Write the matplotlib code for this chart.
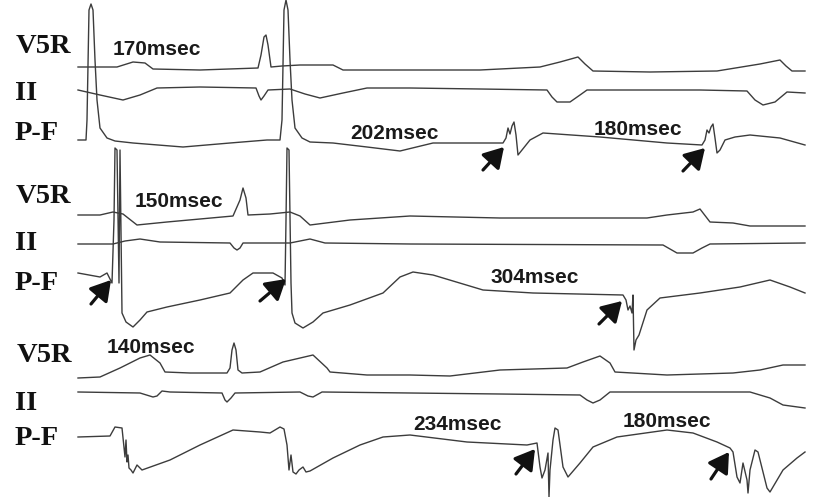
import matplotlib.pyplot as plt

# Traces read off the strip, in image units (x to the right, y downwards)
# ---- strip 1 ----
s1_v5r_x = [78, 100, 117, 133, 145, 153, 200, 258, 261, 264, 266, 268, 271, 282, 300, 333, 343, 400, 480, 540, 560, 578, 585, 593, 650, 717, 760, 780, 786, 792, 805]
s1_v5r_y = [67, 67, 67, 62, 63, 69, 70, 68, 55, 37, 35, 45, 67, 66, 65, 65, 70, 70, 70, 67, 62, 57, 64, 71, 72, 71, 64, 60, 66, 71, 71]
s1_ii_x = [78, 100, 123, 140, 157, 200, 256, 259, 261, 264, 268, 290, 305, 320, 343, 367, 410, 480, 547, 552, 557, 570, 580, 587, 650, 700, 747, 755, 763, 775, 787, 805]
s1_ii_y = [90, 95, 100, 95, 88, 87, 88, 96, 100, 96, 90, 89, 94, 98, 93, 88, 88, 89, 90, 97, 102, 102, 95, 90, 90, 90, 91, 100, 105, 102, 92, 93]
s1_pf_x = [78, 86, 87, 89, 91, 93, 95, 97, 100, 107, 115, 133, 183, 230, 267, 280, 282, 284, 286, 288, 290, 292, 295, 302, 310, 333, 367, 400, 433, 503,
           506, 508, 510, 512, 514, 516, 518, 522, 530, 543, 600, 667, 702, 705, 707, 709, 711, 713, 715, 717, 720, 725, 735, 750, 780, 805]
s1_pf_y = [140, 140, 120, 10, 4, 10, 60, 100, 128, 138, 141, 143, 147, 143, 140, 140, 120, 10, 0, 10, 60, 100, 128, 138, 142, 143, 147, 151, 143, 143,
           138, 128, 134, 126, 122, 135, 155, 150, 140, 133, 137, 143, 145, 140, 130, 133, 127, 124, 138, 153, 150, 140, 137, 135, 138, 145]

# ---- strip 2 ----
s2_v5r_x = [78, 100, 113, 123, 137, 167, 233, 240, 243, 246, 248, 270, 290, 300, 310, 350, 410, 500, 543, 647, 667, 693, 700, 710, 733, 750, 805]
s2_v5r_y = [215, 215, 212, 214, 225, 222, 216, 200, 188, 198, 215, 214, 212, 216, 225, 220, 216, 218, 218, 218, 215, 212, 209, 222, 223, 226, 226]
s2_ii_x = [78, 113, 125, 140, 160, 230, 234, 237, 240, 243, 290, 300, 310, 325, 410, 663, 670, 677, 693, 702, 710, 805]
s2_ii_y = [244, 244, 241, 239, 242, 243, 248, 250, 248, 243, 243, 241, 239, 243, 244, 245, 249, 253, 253, 248, 244, 243]
s2_pf_x = [78, 100, 107, 112, 114, 115, 117, 119, 120, 122, 126, 133, 140, 147, 167, 200, 230, 243, 253, 273, 282, 285, 286, 287, 289, 291, 292,
           295, 303, 313, 323, 350, 383, 400, 413, 433, 483, 533, 623, 626, 628, 630, 632, 633, 634, 636, 639, 647, 660, 700, 740, 770, 790, 805]
s2_pf_y = [273, 277, 273, 283, 220, 148, 150, 283, 150, 313, 322, 327, 320, 312, 307, 300, 293, 280, 273, 273, 278, 285, 220, 148, 150, 283, 313,
           323, 328, 322, 313, 305, 293, 277, 272, 275, 290, 293, 295, 300, 310, 306, 313, 295, 350, 340, 335, 310, 298, 293, 287, 280, 287, 293]

# ---- strip 3 ----
s3_v5r_x = [78, 100, 120, 140, 150, 160, 165, 190, 227, 230, 232, 234, 236, 238, 242, 260, 283, 313, 327, 330, 367, 410, 450, 500, 567, 583, 600, 610, 615, 667, 733, 760, 783, 805]
s3_v5r_y = [378, 377, 368, 358, 355, 363, 372, 373, 373, 368, 350, 343, 350, 370, 373, 372, 362, 355, 368, 372, 375, 375, 376, 370, 368, 362, 356, 363, 372, 375, 373, 370, 365, 365]
s3_ii_x = [78, 140, 153, 157, 162, 170, 222, 225, 227, 231, 235, 300, 308, 313, 322, 410, 500, 580, 587, 593, 600, 610, 750, 770, 783, 805]
s3_ii_y = [392, 393, 397, 396, 391, 392, 393, 400, 402, 398, 393, 392, 396, 397, 392, 393, 394, 395, 400, 403, 400, 392, 392, 398, 405, 408]
s3_pf_x = [78, 110, 115, 122, 125, 126, 127, 128, 129, 131, 133, 137, 142, 170, 200, 233, 260, 270, 275, 280, 284, 287, 289, 291, 293, 296, 299,
           303, 306, 310, 333, 360, 383, 410, 467, 527, 537, 540, 542, 545, 548, 549, 550, 553, 555, 558, 563, 568, 580, 593, 617, 667, 693, 717,
           730, 733, 737, 740, 743, 747, 748, 750, 755, 758, 767, 770, 783, 797, 805]
s3_pf_y = [437, 436, 427, 428, 457, 440, 462, 455, 468, 470, 473, 465, 470, 460, 445, 430, 432, 433, 430, 427, 429, 445, 470, 455, 472, 474, 470,
           467, 472, 471, 458, 445, 437, 435, 442, 445, 443, 467, 478, 470, 453, 497, 470, 440, 428, 430, 467, 477, 463, 447, 437, 430, 433, 442,
           448, 452, 477, 483, 463, 480, 493, 470, 450, 452, 488, 492, 470, 458, 452]

traces = [
    (s1_v5r_x, s1_v5r_y), (s1_ii_x, s1_ii_y), (s1_pf_x, s1_pf_y),
    (s2_v5r_x, s2_v5r_y), (s2_ii_x, s2_ii_y), (s2_pf_x, s2_pf_y),
    (s3_v5r_x, s3_v5r_y), (s3_ii_x, s3_ii_y), (s3_pf_x, s3_pf_y),
]

# lead labels: text, x, baseline y
lead_names = ["V5R", "II", "P-F"] * 3
lead_x = [16, 15, 15, 16, 15, 15, 17, 15, 15]
lead_y = [53, 100, 140, 203, 250, 290, 362, 410, 445]

# interval labels
interval_text = ["170msec", "202msec", "180msec", "150msec", "304msec", "140msec", "234msec", "180msec"]
interval_x = [113, 350, 594, 135, 490, 107, 413, 623]
interval_y = [55, 139, 135, 207, 283, 353, 430, 427]

# arrows pointing at the P-F potentials: tail -> head
arrow_tail_x = [483, 683, 91, 260, 599, 516, 711]
arrow_tail_y = [170, 171, 304, 301, 324, 474, 479]
arrow_head_x = [504, 705, 111, 286, 622, 535, 729]
arrow_head_y = [147, 148, 280, 279, 301, 449, 452]

fig = plt.figure(figsize=(8.13, 4.97), dpi=100)
ax = fig.add_axes([0, 0, 1, 1])
ax.set_xlim(0, 813)
ax.set_ylim(497, 0)
ax.axis("off")

for x, y in traces:
    ax.plot(x, y, color="#3c3c3c", lw=1.0, solid_joinstyle="round")

for name, x, y in zip(lead_names, lead_x, lead_y):
    ax.text(x, y, name, family="Liberation Serif", weight="bold", fontsize=20.5,
            ha="left", va="baseline", color="#111111")

for t, x, y in zip(interval_text, interval_x, interval_y):
    ax.text(x, y, t, family="Liberation Sans", weight="bold", fontsize=15,
            ha="left", va="baseline", color="#1a1a1a")

for tx, ty, hx, hy in zip(arrow_tail_x, arrow_tail_y, arrow_head_x, arrow_head_y):
    ax.annotate("", xy=(hx, hy), xytext=(tx, ty),
                arrowprops=dict(arrowstyle="-|>,head_length=0.6,head_width=0.36",
                                lw=2.3, color="#111111", mutation_scale=20,
                                shrinkA=0, shrinkB=0))

fig.savefig("out.png", dpi=100, facecolor="white")
